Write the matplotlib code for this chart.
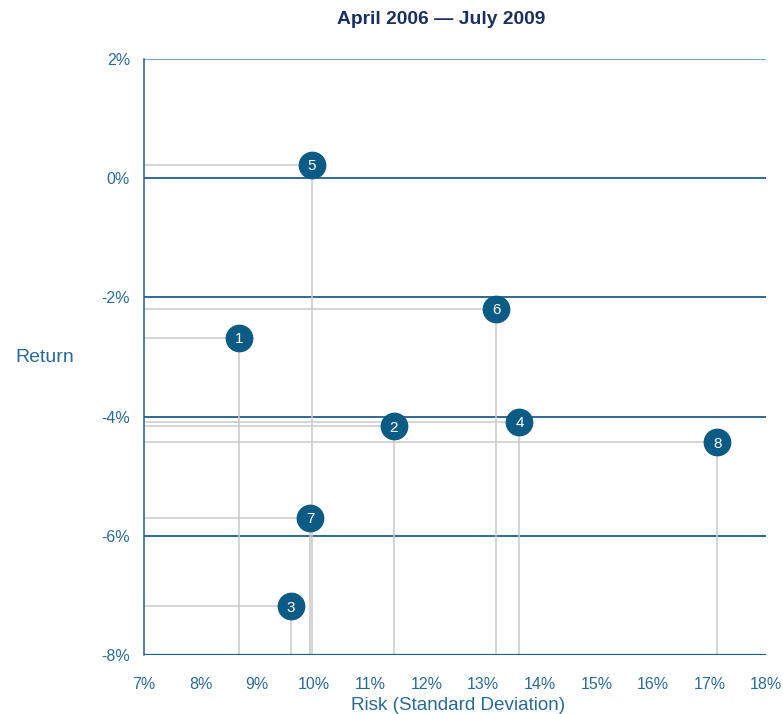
import matplotlib.pyplot as plt

# Risk / return per portfolio (percent)
labels = ['1', '2', '3', '4', '5', '6', '7', '8']
risk = [8.68, 11.42, 9.60, 13.64, 9.97, 13.23, 9.94, 17.14]
ret = [-2.68, -4.16, -7.18, -4.09, 0.22, -2.19, -5.70, -4.43]

x_ticks = list(range(7, 19))
y_ticks = [-8, -6, -4, -2, 0, 2]

navy = '#0b5b85'
grid_blue = '#1f5f8b'
text_blue = '#2a6b96'
guide_gray = '#c9c9c9'

plt.rcParams['font.family'] = ['Liberation Sans', 'DejaVu Sans']

fig = plt.figure(figsize=(7.83, 7.14), dpi=100)
ax = fig.add_axes([144 / 783, 1 - 655 / 714, (766 - 144) / 783, (655 - 59) / 714])

ax.set_xlim(7, 18)
ax.set_ylim(-8, 2)

# horizontal gridlines; the top one is lighter
for y in y_ticks:
    c = '#6f9fbe' if y == 2 else grid_blue
    ax.axhline(y, color=c, lw=1.3, zorder=1)

# drop lines from each point to both axes
for x, y in zip(risk, ret):
    ax.plot([7, x], [y, y], color=guide_gray, lw=1.1, zorder=2)
    ax.plot([x, x], [-8, y], color=guide_gray, lw=1.1, zorder=2)

ax.scatter(risk, ret, s=20 ** 2, color=navy, zorder=4, linewidths=0)
for x, y, lab in zip(risk, ret, labels):
    ax.annotate(lab, (x, y), xytext=(0, -1), textcoords='offset points',
                color='white', fontsize=11, ha='center', va='center', zorder=5)

for s in ['top', 'right', 'bottom']:
    ax.spines[s].set_visible(False)
ax.spines['left'].set_color(grid_blue)
ax.spines['left'].set_linewidth(1.1)
ax.axhline(-8, color=grid_blue, lw=1.6, zorder=3)

ax.set_xticks(x_ticks)
ax.set_xticklabels([f'{t}%' for t in x_ticks])
ax.set_yticks(y_ticks)
ax.set_yticklabels([f'{t}%' for t in y_ticks])
ax.tick_params(axis='both', length=0, colors=text_blue, labelsize=11.5)
ax.tick_params(axis='x', pad=16)
ax.tick_params(axis='y', pad=10)

fig.text(458 / 783, 1 - 705 / 714, 'Risk (Standard Deviation)', color=text_blue,
         fontsize=13.6, ha='center', va='center')
fig.text(45 / 783, 1 - 358 / 714, 'Return', color=text_blue, fontsize=14,
         ha='center', va='center')
fig.text(441 / 783, 1 - 20 / 714, 'April 2006 \u2014 July 2009', color='#1b2f5e',
         fontsize=13.9, fontweight='bold', ha='center', va='center')

fig.savefig('out.png', dpi=100)
